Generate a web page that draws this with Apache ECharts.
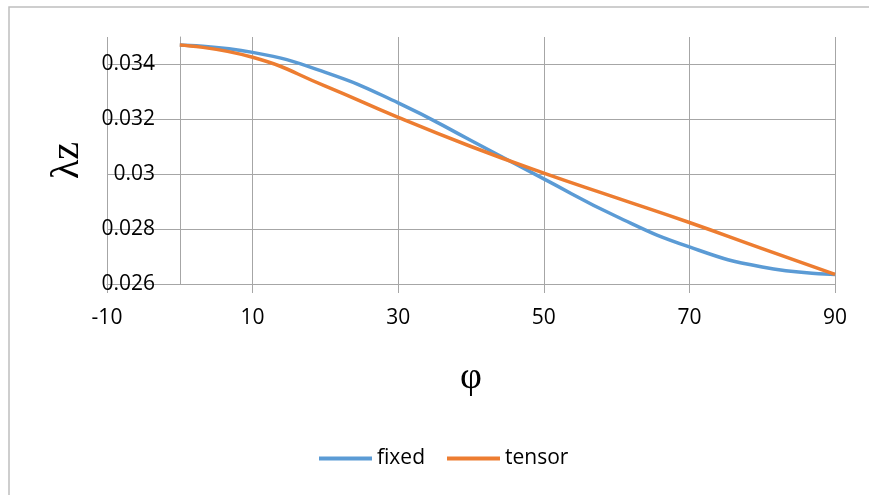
<!DOCTYPE html>
<html>
<head>
<meta charset="utf-8">
<script src="https://cdn.jsdelivr.net/npm/echarts@6/dist/echarts.min.js"></script>
<style>
html,body{margin:0;padding:0;background:#fff;}
#chart{width:869px;height:495px;}
</style>
</head>
<body>
<div id="chart"></div>
<script>
var phi = [0, 10, 20, 30, 40, 50, 60, 70, 80, 90];
var fixedVals = [0.03471, 0.03444, 0.03371, 0.03260, 0.03123, 0.02983, 0.02846, 0.02735, 0.02662, 0.02635];
var tensorVals = [0.03471, 0.03426, 0.03321, 0.03207, 0.03101, 0.03004, 0.02914, 0.02824, 0.02729, 0.02635];
var seriesNames = ['fixed', 'tensor'];

function pairs(xs, ys) {
  return xs.map(function (x, i) { return [x, ys[i]]; });
}

var chart = echarts.init(document.getElementById('chart'));
var gridColor = '#a6a6a6';
var font = '"Open Sans", Lato, sans-serif';

chart.setOption({
  animation: false,
  backgroundColor: '#fff',
  graphic: [{
    type: 'rect',
    shape: { x: 9, y: 7, width: 880, height: 520 },
    style: { fill: 'none', stroke: '#bfbfbf', lineWidth: 1.5 },
    silent: true
  }],
  grid: { left: 107, right: 34, top: 37, bottom: 211, containLabel: false, outerBoundsMode: 'none' },
  legend: {
    left: 314,
    top: 443,
    itemWidth: 53,
    itemHeight: 4,
    itemGap: 22,
    icon: 'rect',
    textStyle: { fontSize: 21, color: '#000', fontFamily: font },
    data: seriesNames
  },
  xAxis: {
    type: 'value',
    min: -10,
    max: 90,
    interval: 20,
    name: 'φ',
    nameLocation: 'middle',
    nameGap: 75,
    nameTextStyle: { fontSize: 38, color: '#000', fontFamily: '"Liberation Serif", "DejaVu Serif", serif' },
    axisLine: { show: true, onZero: false, lineStyle: { color: gridColor, width: 1 } },
    axisTick: { show: true, length: 9, lineStyle: { color: gridColor } },
    axisLabel: { margin: 24, fontSize: 21, color: '#000', fontFamily: font },
    splitLine: { show: true, lineStyle: { color: gridColor, width: 1 } }
  },
  yAxis: {
    type: 'value',
    min: 0.026,
    max: 0.035,
    interval: 0.002,
    name: 'λz',
    nameLocation: 'middle',
    nameRotate: 90,
    nameGap: 20,
    nameTextStyle: { fontSize: 40, color: '#000', fontFamily: '"Liberation Serif", "DejaVu Serif", serif' },
    axisLine: { show: true, onZero: true, lineStyle: { color: gridColor, width: 1 } },
    axisTick: { show: false },
    axisLabel: { margin: -48, fontSize: 21, color: '#000', fontFamily: font, showMaxLabel: false },
    splitLine: { show: true, showMaxLine: false, lineStyle: { color: gridColor, width: 1 } }
  },
  series: [{
    name: seriesNames[0],
    type: 'line',
    smooth: true,
    showSymbol: false,
    data: pairs(phi, fixedVals),
    itemStyle: { color: '#5B9BD5' },
    lineStyle: { color: '#5B9BD5', width: 3.5 }
  }, {
    name: seriesNames[1],
    type: 'line',
    smooth: true,
    showSymbol: false,
    data: pairs(phi, tensorVals),
    itemStyle: { color: '#ED7D31' },
    lineStyle: { color: '#ED7D31', width: 3.5 }
  }]
});
</script>
</body>
</html>
